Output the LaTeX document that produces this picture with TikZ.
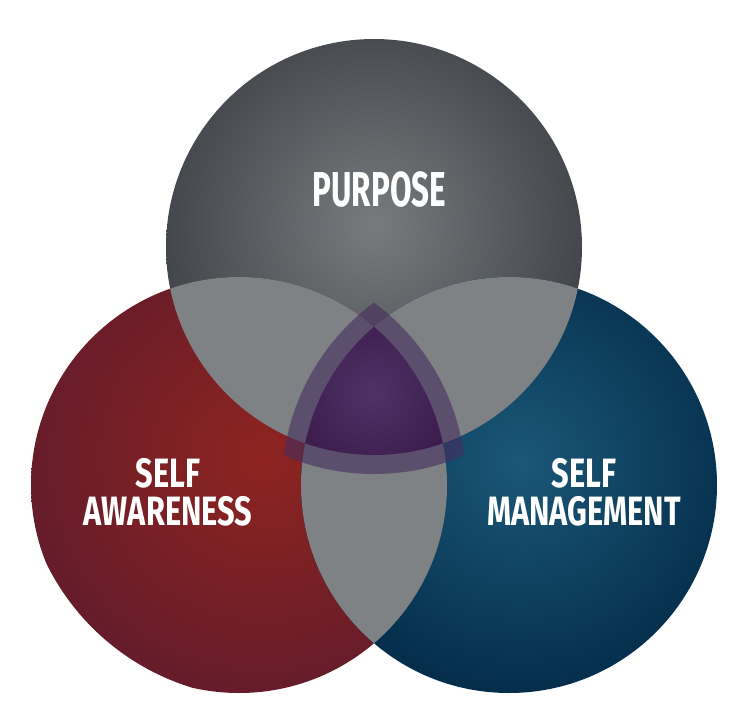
\documentclass[tikz,border=0pt]{standalone}
\usepackage{fontspec}
\newfontfamily\lblfont[FakeStretch=0.75]{Fira Sans}
\newfontfamily\titlefont[FakeStretch=0.64]{Fira Sans}
\definecolor{topIn}{HTML}{777B7E}
\definecolor{topOut}{HTML}{3E4246}
\definecolor{saIn}{HTML}{8E2420}
\definecolor{saOut}{HTML}{651C2B}
\definecolor{smIn}{HTML}{1B5777}
\definecolor{smOut}{HTML}{042D4A}
\definecolor{overlapGray}{HTML}{7F8285}
\definecolor{coreIn}{HTML}{503267}
\definecolor{coreOut}{HTML}{3A1A4A}
\definecolor{bandPurple}{HTML}{462D5D}
\tikzset{
  lbl/.style={text=white, inner sep=0pt, font=\lblfont\bfseries},
  bigfont/.style={font=\titlefont\bfseries\fontsize{49}{49}\selectfont},
  twoline/.style={align=center, font=\lblfont\bfseries\fontsize{41}{38}\selectfont},
  overlap/.style={fill=overlapGray},
  band/.style={fill=bandPurple, opacity=0.6}
}
\begin{document}
\begin{tikzpicture}[x=1pt,y=-1pt]
\useasboundingbox (0,0) rectangle (750,712);
\coordinate (T) at (374,247);
\coordinate (L) at (239,485);
\coordinate (R) at (509,485);
\coordinate (Tlight) at (374,226);
\coordinate (Llight) at (262,458);
\coordinate (Rlight) at (520,462);
\coordinate (Clight) at (372,392);
\def\rad{208pt}
\def\Rad{227pt}
% main circles
\begin{scope}
  \clip (T) circle[radius=\rad];
  \shade[inner color=topIn, outer color=topOut] (Tlight) circle[radius=232pt];
\end{scope}
\begin{scope}
  \clip (L) circle[radius=\rad];
  \shade[inner color=saIn, outer color=saOut] (Llight) circle[radius=240pt];
\end{scope}
\begin{scope}
  \clip (R) circle[radius=\rad];
  \shade[inner color=smIn, outer color=smOut] (Rlight) circle[radius=236pt];
\end{scope}
% pairwise overlaps
\begin{scope}
  \clip (T) circle[radius=\rad];
  \fill[overlap] (L) circle[radius=\rad];
  \fill[overlap] (R) circle[radius=\rad];
\end{scope}
\begin{scope}
  \clip (L) circle[radius=\rad];
  \fill[overlap] (R) circle[radius=\rad];
\end{scope}
% translucent band
\begin{scope}
  \clip (T) circle[radius=\Rad];
  \clip (L) circle[radius=\Rad];
  \fill[band] (R) circle[radius=\Rad];
\end{scope}
% core
\begin{scope}
  \clip (T) circle[radius=\rad];
  \clip (L) circle[radius=\rad];
  \clip (R) circle[radius=\rad];
  \shade[inner color=coreIn, outer color=coreOut] (Clight) circle[radius=92pt];
\end{scope}
% labels
\node[lbl, bigfont, anchor=base] (purpose) at (379.5,206) {PURPOSE};
\node[lbl, twoline, anchor=center] (aware) at (168,492) {SELF\\AWARENESS};
\node[lbl, twoline, anchor=center] (manage) at (584,492) {SELF\\MANAGEMENT};
\end{tikzpicture}
\end{document}
